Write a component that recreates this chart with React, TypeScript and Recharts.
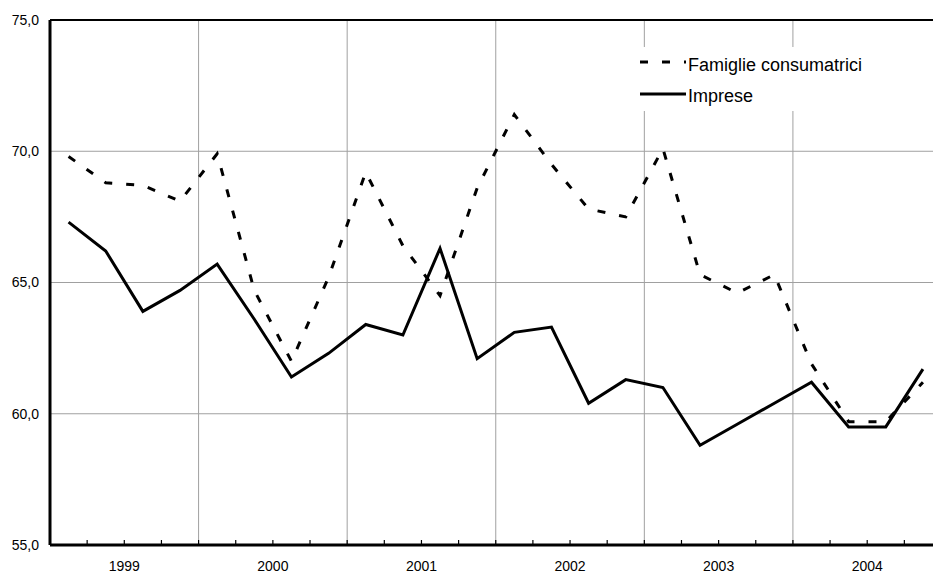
import React from "react";
import {
  CartesianGrid,
  Legend,
  Line,
  LineChart,
  ReferenceLine,
  XAxis,
  YAxis,
} from "recharts";

const YEARS = ["1999", "2000", "2001", "2002", "2003", "2004"];

// quarterly values, 1999 Q1 .. 2004 Q4
const FAMIGLIE = [
  69.8, 68.8, 68.7, 68.1, 69.9, 64.7, 62.0, 65.2, 69.2, 66.4, 64.5, 68.6,
  71.4, 69.5, 67.8, 67.5, 70.1, 65.3, 64.6, 65.3, 61.9, 59.7, 59.7, 61.2,
];
const IMPRESE = [
  67.3, 66.2, 63.9, 64.7, 65.7, 63.6, 61.4, 62.3, 63.4, 63.0, 66.3, 62.1,
  63.1, 63.3, 60.4, 61.3, 61.0, 58.8, 59.6, 60.4, 61.2, 59.5, 59.5, 61.7,
];

const Y_TICKS = [55, 60, 65, 70, 75];

const SERIES = [
  { key: "famiglie", name: "Famiglie consumatrici", dash: "8 14" },
  { key: "imprese", name: "Imprese", dash: undefined as string | undefined },
];

const FONT = "'Liberation Sans', Arial, sans-serif";
const GRID = "#a0a0a0";

const data = FAMIGLIE.map((v, i) => ({
  x: i + 0.5,
  famiglie: v,
  imprese: IMPRESE[i],
}));

const QUARTER_TICKS = Array.from({ length: YEARS.length * 4 + 1 }, (_, i) => i);
const YEAR_BOUNDARIES = YEARS.slice(1).map((_, i) => (i + 1) * 4);

function XTick(props: any) {
  const { x, y, payload } = props;
  const v = payload.value as number;
  const label = (v - 2) % 4 === 0 ? YEARS[(v - 2) / 4] : null;
  return (
    <g>
      <line x1={x} y1={y} x2={x} y2={y - 5} stroke="#000" strokeWidth={1.2} />
      {label && (
        <text
          x={x}
          y={y + 26}
          textAnchor="middle"
          fontSize={14}
          fontFamily={FONT}
          fill="#000"
        >
          {label}
        </text>
      )}
    </g>
  );
}

function LegendBox() {
  return (
    <svg width={245} height={64} style={{ display: "block" }}>
      <rect x={0} y={0} width={245} height={64} fill="#fff" />
      {SERIES.map((s, i) => (
        <g key={s.key}>
          <line
            x1={8}
            x2={54}
            y1={15 + i * 32}
            y2={15 + i * 32}
            stroke="#000"
            strokeWidth={3}
            strokeDasharray={s.dash}
          />
          <text
            x={56}
            y={24 + i * 31}
            fontSize={18}
            fontFamily={FONT}
            fill="#000"
          >
            {s.name}
          </text>
        </g>
      ))}
    </svg>
  );
}

export default function App() {
  return (
    <div
      style={{
        position: "absolute",
        left: 0,
        top: 0,
        width: 933,
        height: 573,
        overflow: "hidden",
        background: "#fff",
      }}
    >
      <LineChart
        width={950}
        height={573}
        data={data}
        margin={{ top: 20, right: 8.5, bottom: 0, left: 0 }}
      >
        <CartesianGrid stroke={GRID} strokeWidth={1} vertical={false} />
        {YEAR_BOUNDARIES.map((b) => (
          <ReferenceLine key={b} x={b} stroke={GRID} strokeWidth={1} />
        ))}
        <XAxis
          dataKey="x"
          type="number"
          domain={[0, YEARS.length * 4]}
          ticks={QUARTER_TICKS}
          interval={0}
          height={28}
          tickSize={0}
          tickMargin={0}
          tickLine={false}
          axisLine={{ stroke: "#000", strokeWidth: 3 }}
          tick={<XTick />}
        />
        <YAxis
          type="number"
          domain={[55, 75]}
          ticks={Y_TICKS}
          width={50}
          tickSize={0}
          tickMargin={11}
          tickLine={false}
          axisLine={{ stroke: "#000", strokeWidth: 3 }}
          tick={{ fill: "#000", fontSize: 14, fontFamily: FONT }}
          tickFormatter={(v: number) => v.toFixed(1).replace(".", ",")}
        />
        <ReferenceLine y={75} stroke="#000" strokeWidth={2} />
        {SERIES.map((s) => (
          <Line
            key={s.key}
            dataKey={s.key}
            name={s.name}
            type="linear"
            stroke="#000"
            strokeWidth={3}
            strokeDasharray={s.dash}
            dot={false}
            activeDot={false}
            isAnimationActive={false}
          />
        ))}
        <Legend
          layout="vertical"
          align="center"
          verticalAlign="middle"
          content={() => <LegendBox />}
          wrapperStyle={{ left: 632, top: 47, width: 245, height: 64 }}
        />
      </LineChart>
    </div>
  );
}
